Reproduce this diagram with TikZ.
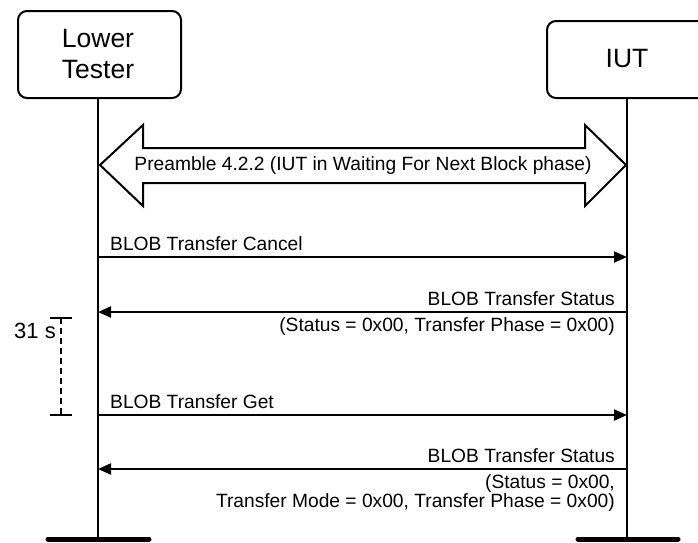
\documentclass[tikz,border=0pt]{standalone}
\usepackage{fontspec}
\setmainfont{Liberation Sans}
\usetikzlibrary{arrows.meta}
\tikzset{
  actor/.style={draw, line width=2pt, rounded corners=9pt, inner sep=0pt},
  life/.style={line width=2.2pt},
  endbar/.style={line width=5pt, line cap=round},
  msg/.style={line width=2pt, -{Triangle[length=13pt,width=11pt]}},
  lbl/.style={font=\fontsize{19.2}{20}\selectfont, inner sep=0pt},
}
\begin{document}
\begin{tikzpicture}[x=1pt,y=-1pt]
\useasboundingbox (0,0) rectangle (698,542);
\clip (0,0) rectangle (698,542);
% actors
\node[actor, minimum width=163pt, minimum height=87pt, anchor=north west] (lt) at (17,10) {};
\node[font=\fontsize{26.5}{31}\selectfont, align=center, inner sep=0pt] (ltt) at (98,54) {Lower\\Tester};
\node[actor, minimum width=162pt, minimum height=77pt, anchor=north west] (iut) at (546,20) {};
\node[font=\fontsize{26.5}{31}\selectfont, inner sep=0pt] (iutt) at (627,59) {IUT};
% lifelines
\coordinate (ltb) at (98,539);
\coordinate (iutb) at (627,539);
\draw[life] (lt.south -| ltb) -- (ltb);
\draw[life] (iut.south -| iutb) -- (iutb);
\coordinate (ltbl) at (48,539);
\coordinate (ltbr) at (149,539);
\coordinate (iutbl) at (578,539);
\coordinate (iutbr) at (678,539);
\draw[endbar] (ltbl) -- (ltbr);
\draw[endbar] (iutbl) -- (iutbr);
% preamble double arrow
\draw[line width=2pt, fill=white, line join=miter]
  (100,165) -- (143,125) -- (143,148) -- (585,148) -- (585,125) -- (626,165)
  -- (585,206) -- (585,183) -- (143,183) -- (143,206) -- cycle;
\node[lbl] (pre) at (363,166) {Preamble 4.2.2 (IUT in Waiting For Next Block phase)};
% messages
\coordinate (a1) at (98,257); \coordinate (b1) at (627,257);
\coordinate (a2) at (98,312); \coordinate (b2) at (627,312);
\coordinate (a3) at (98,415); \coordinate (b3) at (627,415);
\coordinate (a4) at (98,469); \coordinate (b4) at (627,469);
\draw[msg] (a1) -- (b1);
\node[lbl, anchor=base west] (m1) at (110,250) {BLOB Transfer Cancel};
\draw[msg] (b2) -- (a2);
\node[lbl, anchor=base east] (m2) at (615,305) {BLOB Transfer Status};
\node[lbl, anchor=base east] (m2b) at (615,331) {(Status = 0x00, Transfer Phase = 0x00)};
\draw[msg] (a3) -- (b3);
\node[lbl, anchor=base west] (m3) at (110,408) {BLOB Transfer Get};
\draw[msg] (b4) -- (a4);
\node[lbl, anchor=base east] (m4) at (615,462) {BLOB Transfer Status};
\node[lbl, anchor=base east] (m4b) at (615,488) {(Status = 0x00,};
\node[lbl, anchor=base east] (m4c) at (615,507) {Transfer Mode = 0x00, Transfer Phase = 0x00)};
% timer
\coordinate (t1l) at (50,318); \coordinate (t1r) at (72,318);
\coordinate (t2l) at (50,415); \coordinate (t2r) at (72,415);
\coordinate (t1) at (61,318); \coordinate (t2) at (61,415);
\draw[line width=2.2pt] (t1l) -- (t1r);
\draw[line width=2.2pt] (t2l) -- (t2r);
\draw[line width=2.2pt, dash pattern=on 6pt off 4pt] (t1) -- (t2);
\node[font=\fontsize{22}{24}\selectfont, inner sep=0pt, anchor=base east] (tl) at (56,338) {31 s};
\end{tikzpicture}
\end{document}
